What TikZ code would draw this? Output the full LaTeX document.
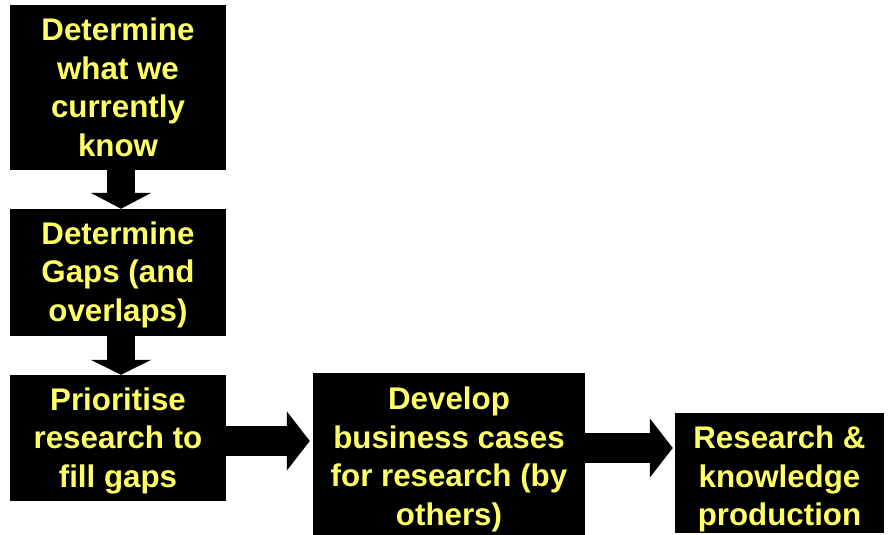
\documentclass[tikz,border=0pt]{standalone}
\usepackage{fontspec}
\setmainfont{Liberation Sans}
\usetikzlibrary{arrows.meta}
\definecolor{txtyellow}{RGB}{255,255,102}
\tikzset{
  stepbox/.style={fill=black, text=txtyellow, inner sep=0pt, align=center,
    font=\bfseries\fontsize{31.3}{38.5}\selectfont},
}
\newcommand{\padtop}[1]{\rule{0pt}{#1}}
\begin{document}
\begin{tikzpicture}[x=1pt,y=1pt]
\useasboundingbox (0,0) rectangle (889,535);
\node[stepbox, minimum width=216pt, minimum height=165pt] (b1) at (118,447.5) {Determine\\what we\\currently\\know};
\node[stepbox, minimum width=216pt, minimum height=127pt] (b2) at (118,262.5) {\padtop{27pt}Determine\\Gaps (and\\overlaps)};
\node[stepbox, minimum width=216pt, minimum height=126pt] (b3) at (118,97) {\padtop{28.5pt}Prioritise\\research to\\fill gaps};
\node[stepbox, minimum width=272pt, minimum height=162pt] (b4) at (449,81) {\padtop{33pt}Develop\\business cases\\for research (by\\others)};
\node[stepbox, minimum width=209pt, minimum height=120pt] (b5) at (779.5,62) {\padtop{34.5pt}Research \&\\knowledge\\production};
\draw[line width=28pt, -{Triangle[width=60pt,length=16pt]}] ([xshift=3pt]b1.south) -- ([xshift=3pt]b2.north);
\draw[line width=28pt, -{Triangle[width=60pt,length=15pt]}] ([xshift=3pt]b2.south) -- ([xshift=3pt]b3.north);
\draw[line width=30pt, -{Triangle[width=58pt,length=23pt]}] ([yshift=-3pt]b3.east) coordinate (a1) -- ([xshift=-3pt]b4.west |- a1);
\draw[line width=30pt, -{Triangle[width=58pt,length=23pt]}] ([yshift=6pt]b4.east) coordinate (a2) -- ([xshift=-2pt]b5.west |- a2);
\end{tikzpicture}
\end{document}
